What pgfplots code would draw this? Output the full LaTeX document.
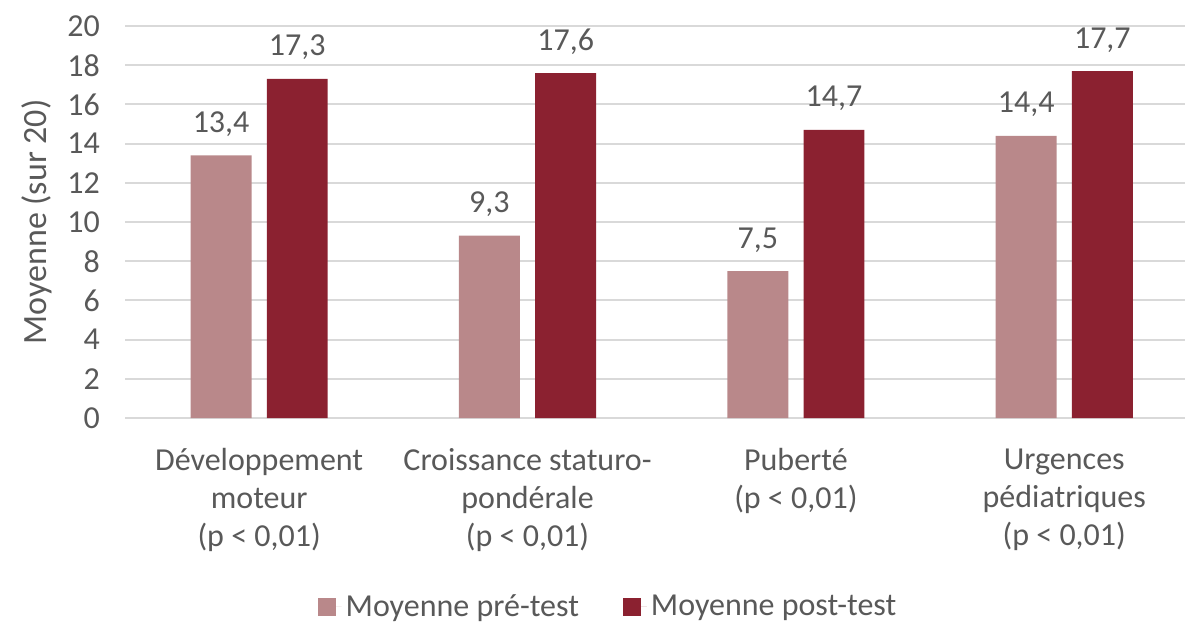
\documentclass[border=0pt]{standalone}
\usepackage{pgfplots}
\pgfplotsset{compat=1.18}
\usepackage{fontspec}
\setmainfont{Carlito}
\definecolor{pre}{HTML}{B9888A}
\definecolor{post}{HTML}{8B2130}
\definecolor{txt}{HTML}{595959}
\definecolor{gridc}{HTML}{D9D9D9}
\begin{document}
\begin{tikzpicture}
\begin{axis}[
  scale only axis, width=530pt, height=196pt,
  xmin=-0.5, xmax=3.45, ymin=0, ymax=20,
  ytick={0,2,...,20},
  xtick={0,1,2,3},
  xticklabels={{Développement\\moteur\\(p < 0,01)},{Croissance staturo-\\pondérale\\(p < 0,01)},{Puberté\\(p < 0,01)},{Urgences\\pédiatriques\\(p < 0,01)}},
  axis line style={draw=none},
  tick style={draw=none},
  ymajorgrids, grid style={gridc, line width=1pt},
  /pgf/number format/assume math mode=true,
  yticklabel style={font=\fontsize{16}{19}\selectfont, text=txt, xshift=-9pt},
  xticklabel style={font=\fontsize{16}{19}\selectfont, text=txt, align=center, yshift=-7.5pt},
  ylabel={Moyenne (sur 20)},
  ylabel style={at={(axis description cs:-0.083,0.5)}, anchor=center, font=\fontsize{17}{20}\selectfont, text=txt},
  ybar, bar width=0.227,
  nodes near coords={\pgfmathprintnumber[fixed, fixed zerofill, precision=1, use comma]{\pgfplotspointmeta}},
  every node near coord/.append style={font=\fontsize{16}{19}\selectfont, text=txt, anchor=base, yshift=11.5pt},
  legend style={at={(0.4566,-0.482)}, anchor=center, draw=none, fill=none, legend columns=2,
    font=\fontsize{16}{19}\selectfont, text=txt,
    /tikz/every even column/.append style={column sep=20pt}},
  legend image code/.code={\fill[#1] (0pt,-4.5pt) rectangle (9pt,4.5pt); \path (9pt,0pt) -- (12pt,0pt);},
]
\addplot[fill=pre, draw=none, bar shift=-0.142] coordinates {(0,13.4) (1,9.3) (2,7.5) (3,14.4)};
\addplot[fill=post, draw=none, bar shift=0.142] coordinates {(0,17.3) (1,17.6) (2,14.7) (3,17.7)};
\legend{Moyenne pré-test, Moyenne post-test}
\end{axis}
\pgfresetboundingbox
\path[use as bounding box] ([xshift=-62.5pt,yshift=-102.5pt]current axis.south west) rectangle ([yshift=13pt]current axis.north east);
\end{tikzpicture}
\end{document}
